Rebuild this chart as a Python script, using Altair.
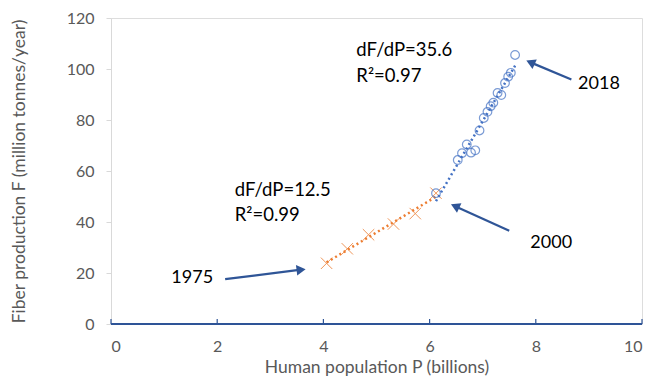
import altair as alt
import pandas as pd

# Data
pop_1975_2000 = [4.06, 4.45, 4.85, 5.32, 5.73, 6.12]
fiber_1975_2000 = [23.8, 29.5, 35.0, 39.2, 43.3, 51.3]

pop_2000_2018 = [6.12, 6.53, 6.61, 6.70, 6.78, 6.86, 6.94, 7.02, 7.09, 7.15,
                 7.20, 7.28, 7.35, 7.42, 7.48, 7.53, 7.61]
fiber_2000_2018 = [51.3, 64.3, 67.0, 70.4, 67.2, 68.1, 75.9, 80.8, 83.2, 85.4,
                   86.8, 90.6, 89.8, 94.5, 97.0, 98.5, 105.5]

# Annotations (data units)
arrow_labels = ["1975", "2000", "2018"]
arrow_x0 = [2.15, 7.50, 8.67]
arrow_y0 = [17.6, 36.6, 95.9]
arrow_x1 = [3.58, 6.48, 7.90]
arrow_y1 = [21.3, 46.2, 102.6]
arrow_angle = [353, 205, 204]
label_x = [1.53, 8.29, 9.19]
label_y = [17.9, 31.6, 94.0]

note_text = ["dF/dP=35.6", "R\u00b2=0.97", "dF/dP=12.5", "R\u00b2=0.99"]
note_x = [4.62, 4.62, 2.33, 2.33]
note_y = [107.6, 97.2, 52.4, 42.8]

x_ticks = [0, 2, 4, 6, 8, 10]
y_ticks = [0, 20, 40, 60, 80, 100, 120]

orange = "#ED7D31"
blue = "#4472C4"
navy = "#2F5597"
grey = "#595959"
FONT = "Lato"

early = pd.DataFrame({"P": pop_1975_2000, "F": fiber_1975_2000})
late = pd.DataFrame({"P": pop_2000_2018, "F": fiber_2000_2018})
arrows = pd.DataFrame({"label": arrow_labels, "x0": arrow_x0, "y0": arrow_y0,
                       "x1": arrow_x1, "y1": arrow_y1, "angle": arrow_angle,
                       "lx": label_x, "ly": label_y})
notes = pd.DataFrame({"text": note_text, "x": note_x, "y": note_y})
ticks = pd.DataFrame({"x": x_ticks})

xscale = alt.Scale(domain=[0, 10], nice=False)
yscale = alt.Scale(domain=[0, 120], nice=False)

xaxis = alt.Axis(title="Human population P (billions)", values=x_ticks, grid=False,
                 domain=False, ticks=False, labelPadding=14, labelFontSize=16,
                 labelColor=grey, titleColor=grey, titleFontSize=17.5,
                 titleFontWeight="normal", titlePadding=4, labelFont=FONT, titleFont=FONT)
yaxis = alt.Axis(title="Fiber production F (million tonnes/year)", values=y_ticks,
                 grid=False, domainColor="#D9D9D9", tickColor="#D9D9D9", tickSize=5,
                 labelPadding=12, labelFontSize=16, labelColor=grey, titleColor=grey,
                 titleFontSize=17.5, titleFontWeight="normal", titlePadding=38,
                 labelFont=FONT, titleFont=FONT)

base_x = alt.X("P:Q", scale=xscale, axis=xaxis)
base_y = alt.Y("F:Q", scale=yscale, axis=yaxis)

early_pts = alt.Chart(early).mark_point(
    shape="M-1,-1L1,1M-1,1L1,-1", filled=False, color=orange, strokeWidth=1, size=130, opacity=0.8
).encode(x=base_x, y=base_y)

late_pts = alt.Chart(late).mark_point(
    shape="circle", filled=False, color=blue, strokeWidth=1.2, size=75
).encode(x=alt.X("P:Q", scale=xscale), y=alt.Y("F:Q", scale=yscale))

early_fit = alt.Chart(early).transform_regression("P", "F").mark_line(
    color=orange, strokeWidth=2.5, strokeDash=[2, 3]
).encode(x=alt.X("P:Q", scale=xscale), y=alt.Y("F:Q", scale=yscale))

late_fit = alt.Chart(late).transform_regression("P", "F").mark_line(
    color=blue, strokeWidth=2.5, strokeDash=[2, 3]
).encode(x=alt.X("P:Q", scale=xscale), y=alt.Y("F:Q", scale=yscale))

x_domain = alt.Chart(ticks).mark_rule(color=navy, strokeWidth=1.5).encode(
    x=alt.value(0), x2=alt.value(531), y=alt.datum(0, scale=yscale)
)
x_tick_marks = alt.Chart(ticks).mark_rule(color=navy, strokeWidth=1.2).encode(
    x=alt.X("x:Q", scale=xscale), y=alt.value(306), y2=alt.value(301)
)

arrow_lines = alt.Chart(arrows).mark_rule(color=navy, strokeWidth=2.2).encode(
    x=alt.X("x0:Q", scale=xscale), y=alt.Y("y0:Q", scale=yscale),
    x2="x1:Q", y2="y1:Q"
)
arrow_heads = alt.Chart(arrows).mark_point(
    shape="triangle-right", filled=True, color=navy, opacity=1, size=110
).encode(
    x=alt.X("x1:Q", scale=xscale), y=alt.Y("y1:Q", scale=yscale),
    angle=alt.Angle("angle:Q", scale=None)
)
arrow_text = alt.Chart(arrows).mark_text(
    fontSize=18, font=FONT, color="black", align="center", baseline="middle"
).encode(x=alt.X("lx:Q", scale=xscale), y=alt.Y("ly:Q", scale=yscale), text="label:N")

note_marks = alt.Chart(notes).mark_text(
    fontSize=18.5, font=FONT, color="black", align="left", baseline="middle"
).encode(x=alt.X("x:Q", scale=xscale), y=alt.Y("y:Q", scale=yscale), text="text:N")

chart = alt.layer(
    early_pts, early_fit, late_fit, late_pts, x_domain, x_tick_marks,
    arrow_lines, arrow_heads, arrow_text, note_marks
).properties(
    width=531, height=306,
    autosize=alt.AutoSizeParams(type="none"),
    padding={"left": 103, "top": 10, "right": 4, "bottom": 52}
).configure_view(stroke=None).configure(background="white")

chart.save("out.html", embed_options={"renderer": "svg", "actions": False})
